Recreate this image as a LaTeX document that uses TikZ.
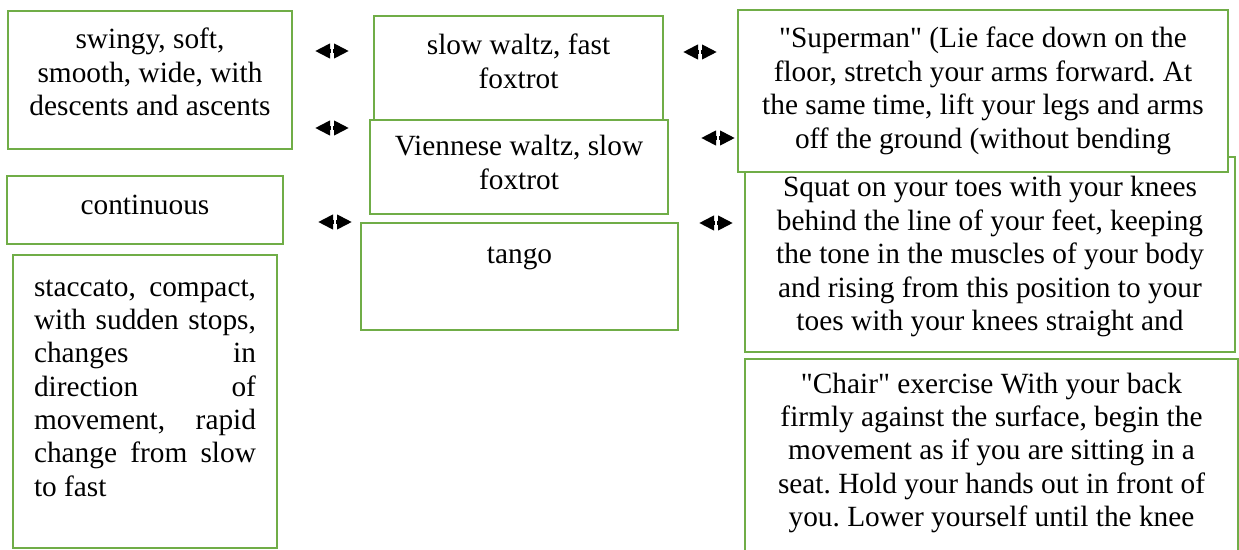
\documentclass[tikz,border=0pt]{standalone}
\usepackage{fontspec}
\setmainfont{Liberation Serif}[Ligatures=TeXOff]
\usetikzlibrary{arrows.meta}
\newlength\px
\setlength\px{0.02cm}
\definecolor{boxgreen}{HTML}{70AD47}
\frenchspacing
\newcommand\boxtext[4]{\parbox[c][#2\px][t]{#1\px}{\centering\rule{0pt}{#3\px}#4\par}}
\newcommand\jline[1]{\makebox[\linewidth][s]{#1}}
\begin{document}
\begin{tikzpicture}[x=0.02cm,y=-0.02cm,
  font=\fontsize{16.7pt}{19pt}\selectfont,
  box/.style={draw=boxgreen, line width=0.04cm, fill=white, inner sep=0pt, outer sep=0pt, anchor=north west},
  halfarrow/.style={-{Triangle[length=0.3cm,width=0.28cm]}, line width=0.08cm, shorten <=0.02cm}]
\useasboundingbox (0,0) rectangle (1239,550);
% left column
\node[box] (swingy) at (8,11) {\boxtext{284}{138}{38}{swingy, soft,\\smooth, wide, with\\descents and ascents}};
\node[box] (cont) at (7,176) {\boxtext{276}{68}{39}{continuous}};
\node[box] (stacc) at (13,255) {\parbox[c][293\px][t]{264\px}{\centering\parbox[t]{222\px}{\raggedright\rule{0pt}{41\px}\jline{staccato, compact,}\\\jline{with sudden stops,}\\\jline{changes in}\\\jline{direction of}\\\jline{movement, rapid}\\\jline{change from slow}\\to fast}}};
% middle column
\node[box] (slow) at (374,16) {\boxtext{289}{104}{39}{slow waltz, fast\\foxtrot}};
\node[box] (vienn) at (370,120) {\boxtext{298}{94}{36}{Viennese waltz, slow\\foxtrot}};
\node[box] (tango) at (361,223) {\boxtext{317}{107}{40}{tango}};
% right column
\node[box] (squat) at (745,157) {\boxtext{490}{195}{40}{Squat on your toes with your knees\\behind the line of your feet, keeping\\the tone in the muscles of your body\\and rising from this position to your\\toes with your knees straight and}};
\node[box] (super) at (738,10) {\boxtext{490}{162}{38}{"Superman" (Lie face down on the\\floor, stretch your arms forward. At\\the same time, lift your legs and arms\\off the ground (without bending}};
\node[box] (chair) at (745,359) {\boxtext{493}{230}{34}{"Chair" exercise With your back\\firmly against the surface, begin the\\movement as if you are sitting in a\\seat. Hold your hands out in front of\\you. Lower yourself until the knee}};
% double arrows
\foreach \n/\x/\y in {l1/332/51, l2/332/128, l3/335/222, r1/700/52, r2/718/138, r3/716/223}{
  \coordinate (\n) at (\x,\y);
  \coordinate (\n w) at (\x-17,\y);
  \coordinate (\n e) at (\x+17,\y);
  \draw[halfarrow] (\n) -- (\n w);
  \draw[halfarrow] (\n) -- (\n e);
}
\end{tikzpicture}
\end{document}
